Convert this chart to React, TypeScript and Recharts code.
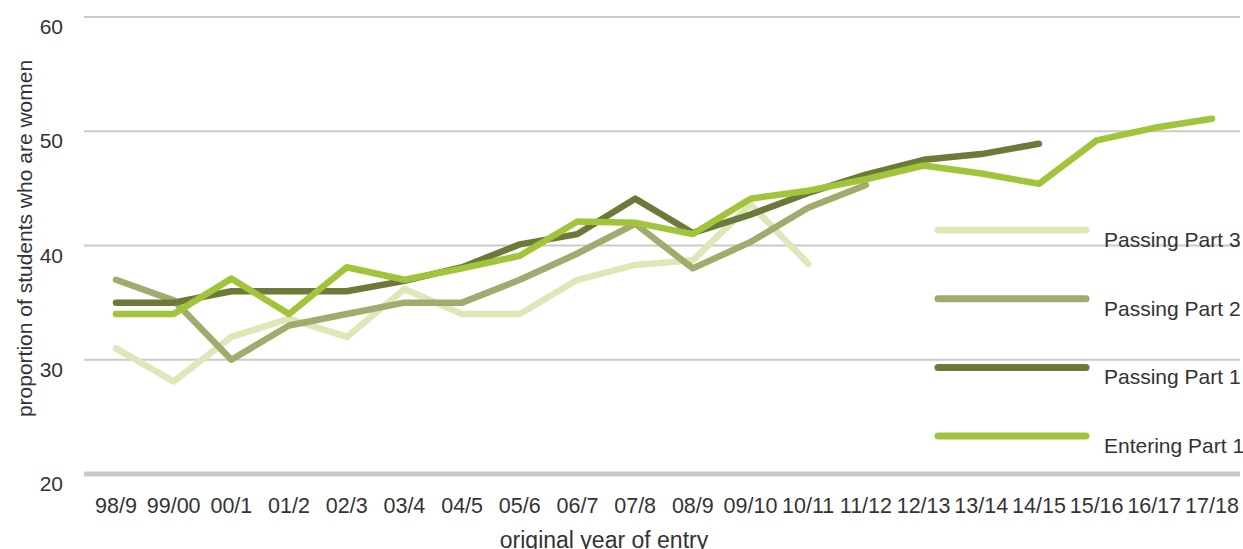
import React from 'react';
import { LineChart, Line, XAxis, YAxis, CartesianGrid, Legend } from 'recharts';

const years = [
  '98/9', '99/00', '00/1', '01/2', '02/3', '03/4', '04/5', '05/6', '06/7', '07/8',
  '08/9', '09/10', '10/11', '11/12', '12/13', '13/14', '14/15', '15/16', '16/17', '17/18',
];

const passingPart3 = [31, 28.1, 32, 33.6, 32, 36.2, 34, 34, 37, 38.3, 38.7, 43.6, 38.4];
const passingPart2 = [37, 35.2, 30, 33, 34, 35, 35, 37, 39.3, 41.9, 38, 40.3, 43.3, 45.3];
const passingPart1 = [35, 35, 36, 36, 36, 36.9, 38.1, 40.1, 41, 44.1, 41.1, 42.7, 44.6, 46.2, 47.5, 48, 48.9];
const enteringPart1 = [34, 34, 37.1, 34, 38.1, 37, 38, 39.1, 42.1, 42, 41, 44.1, 44.8, 45.8, 47, 46.3, 45.4, 49.2, 50.3, 51.1];

const yTicks = [20, 30, 40, 50, 60];

const FONT = '"Liberation Sans", Arial, Helvetica, sans-serif';
const TEXT = '#333333';

const series = [
  { key: 'p3', name: 'Passing Part 3', color: '#dde7b8', values: passingPart3 },
  { key: 'p2', name: 'Passing Part 2', color: '#a2aa6e', values: passingPart2 },
  { key: 'p1', name: 'Passing Part 1', color: '#6b7a39', values: passingPart1 },
  { key: 'e1', name: 'Entering Part 1', color: '#a0c43a', values: enteringPart1 },
];

const data = years.map((year, i) => {
  const row: Record<string, string | number | null> = { year };
  series.forEach((s) => {
    row[s.key] = i < s.values.length ? s.values[i] : null;
  });
  return row;
});

const XTick = ({ x, y, payload }: any) => (
  <text x={x} y={y + 31} textAnchor="middle" fontSize={21.5} fontFamily={FONT} fill={TEXT}>
    {payload.value}
  </text>
);

const YTick = ({ x, y, payload }: any) => (
  <text x={x - 13} y={y + 17} textAnchor="end" fontSize={21} fontFamily={FONT} fill={TEXT}>
    {payload.value}
  </text>
);

const YTitle = ({ viewBox }: any) => (
  <text
    transform={`translate(32, ${viewBox.y + viewBox.height / 2 - 7}) rotate(-90)`}
    textAnchor="middle"
    fontSize={21}
    fontFamily={FONT}
    fill={TEXT}
  >
    proportion of students who are women
  </text>
);

// legend keeps the series order (top to bottom)
const LegendBox = () => (
  <svg width={317} height={260} style={{ overflow: 'visible' }}>
    {series.map((s, i) => {
      const cy = 15 + i * 68.7;
      return (
        <g key={s.key}>
          <line x1={12} x2={160} y1={cy} y2={cy} stroke={s.color} strokeWidth={7} strokeLinecap="round" />
          <text x={178} y={cy + 17} fontSize={21} fontFamily={FONT} fill={TEXT}>
            {s.name}
          </text>
        </g>
      );
    })}
  </svg>
);

export default function App() {
  return (
    <div style={{ position: 'absolute', left: 0, top: 0, background: '#fff' }}>
      <LineChart width={1243} height={549} data={data} margin={{ top: 17, right: 3, bottom: 0, left: 0 }}>
        <CartesianGrid vertical={false} stroke="#cacaca" strokeWidth={2} />
        <XAxis
          dataKey="year"
          height={75}
          padding={{ left: 32, right: 28 }}
          axisLine={{ stroke: '#c8c8c8', strokeWidth: 5 }}
          tickLine={false}
          tick={<XTick />}
          interval={0}
          label={{
            value: 'original year of entry',
            position: 'insideBottom',
            offset: 1,
            dx: -58,
            fontSize: 23,
            fontFamily: FONT,
            fill: TEXT,
          }}
        />
        <YAxis
          width={84}
          domain={[20, 60]}
          ticks={yTicks}
          axisLine={false}
          tickLine={false}
          tick={<YTick />}
          label={YTitle}
        />
        <Legend
          layout="vertical"
          align="center"
          verticalAlign="middle"
          content={<LegendBox />}
          wrapperStyle={{ left: 926, top: 215, width: 317, height: 260 }}
        />
        {series.map((s) => (
          <Line
            key={s.key}
            dataKey={s.key}
            name={s.name}
            stroke={s.color}
            strokeWidth={6.5}
            strokeLinecap="round"
            strokeLinejoin="round"
            dot={false}
            activeDot={false}
            type="linear"
            connectNulls={false}
            isAnimationActive={false}
          />
        ))}
      </LineChart>
    </div>
  );
}
